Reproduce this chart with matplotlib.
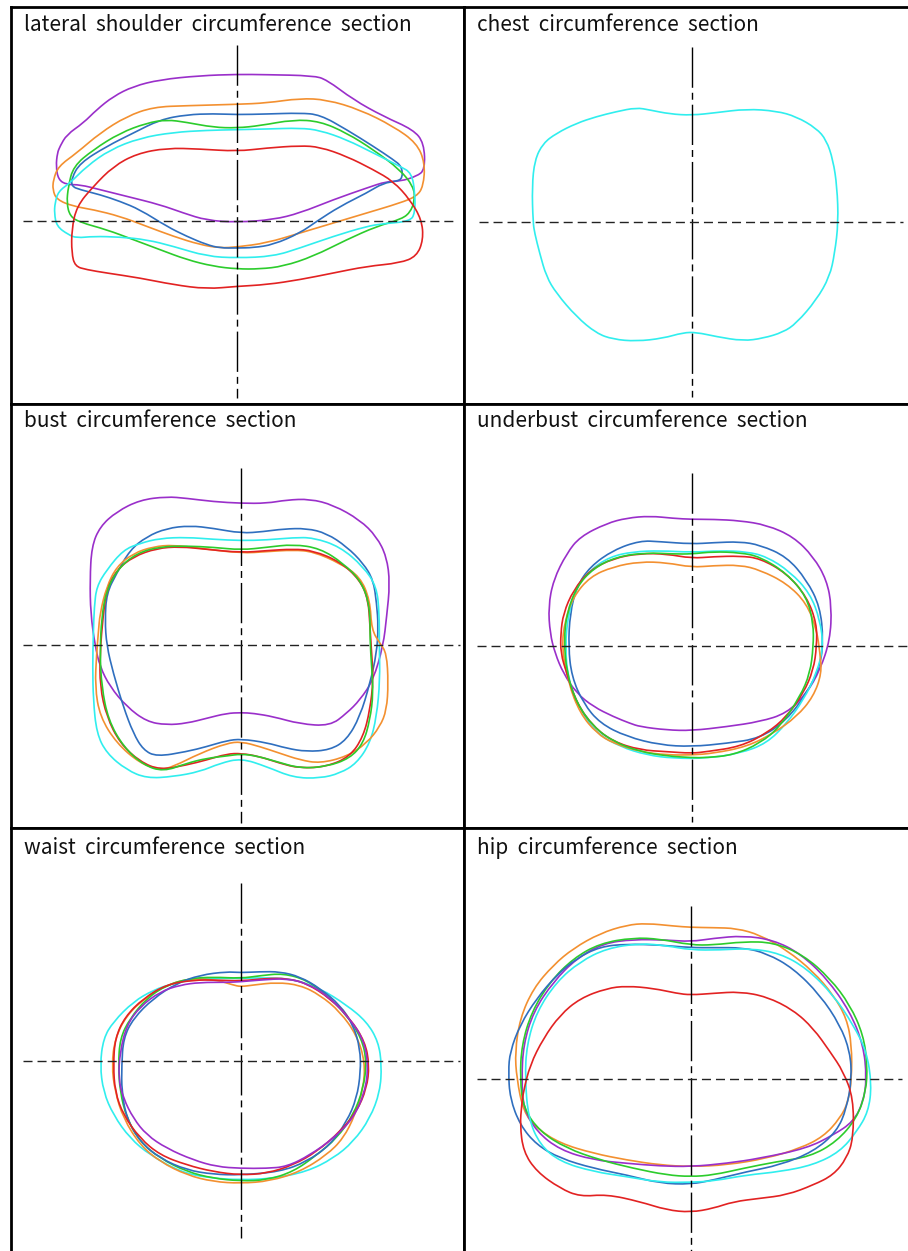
import numpy as np
import matplotlib
matplotlib.use("Agg")
import matplotlib.pyplot as plt
from matplotlib.path import Path
from matplotlib.patches import PathPatch

# contour points per section, relative to the cross centre (1 unit = 1/3 px of the original figure), y up
c_purple = "#9a2fca"
c_orange = "#f39030"
c_blue = "#2f6fbf"
c_green = "#2ccc2c"
c_cyan = "#30eeee"
c_red = "#e22222"

# lateral shoulder
sh_purple = [(-531,224),(-511,259),(-461,294),(-421,334),(-371,374),(-311,404),(-231,424),(-111,436),(0,440),(89,439),(229,436),(269,424),(349,364),(439,314),(529,274),(561,234),(564,154),(539,134),(489,119),(449,119),(389,99),(289,64),(189,24),(109,4),(0,-4),(-91,2),(-161,24),(-231,49),(-331,74),(-411,94),(-471,109),(-511,109),(-536,124),(-543,164),(-539,204)]
sh_orange = [(-551,124),(-536,164),(-481,204),(-411,264),(-331,314),(-251,342),(-151,346),(0,350),(89,354),(189,368),(269,364),(369,334),(469,284),(539,234),(564,174),(559,104),(539,74),(489,54),(389,24),(289,-6),(189,-36),(89,-66),(0,-78),(-51,-81),(-111,-71),(-191,-46),(-271,-16),(-351,14),(-431,34),(-491,44),(-541,64),(-553,94)]
sh_blue = [(-496,129),(-471,174),(-391,224),(-311,264),(-231,304),(-151,319),(-71,322),(0,319),(89,321),(189,324),(249,319),(329,274),(409,224),(469,184),(494,164),(497,129),(479,119),(439,114),(389,84),(309,44),(239,-1),(189,-36),(109,-71),(49,-80),(0,-81),(-51,-81),(-91,-71),(-151,-46),(-211,-16),(-291,34),(-351,59),(-411,79),(-471,94),(-496,104)]
sh_green = [(-506,104),(-491,164),(-431,214),(-351,264),(-271,294),(-211,304),(-151,296),(-71,281),(0,279),(69,286),(169,304),(249,299),(329,264),(409,214),(489,154),(529,104),(534,64),(519,24),(489,4),(419,-16),(329,-56),(229,-106),(139,-136),(69,-144),(0,-144),(-71,-136),(-151,-116),(-231,-86),(-311,-56),(-391,-26),(-471,-4),(-501,14),(-511,54)]
sh_cyan = [(-546,54),(-536,89),(-501,114),(-451,164),(-381,214),(-291,249),(-191,266),(-91,272),(0,274),(89,276),(189,279),(249,272),(329,244),(409,204),(489,164),(524,144),(534,84),(534,24),(519,-1),(439,-8),(389,-16),(289,-46),(189,-81),(109,-106),(0,-111),(-91,-106),(-191,-76),(-271,-56),(-351,-48),(-431,-46),(-481,-51),(-506,-41),(-541,-16),(-548,24)]
sh_red = [(-496,-26),(-481,44),(-431,104),(-371,164),(-301,202),(-211,219),(-111,216),(0,209),(89,219),(189,226),(249,222),(329,194),(409,154),(469,119),(519,64),(554,4),(559,-56),(539,-106),(489,-126),(389,-136),(289,-156),(189,-176),(89,-191),(0,-196),(-91,-204),(-191,-191),(-291,-171),(-391,-156),(-451,-146),(-486,-136),(-496,-96)]

# chest
ch_cyan = [(-476,0),(-479,107),(-471,187),(-446,237),(-406,267),(-346,297),(-286,317),(-226,332),(-166,344),(-126,337),(-66,325),(0,321),(74,329),(164,340),(254,334),(314,317),(374,282),(404,247),(424,187),(436,107),(440,0),(429,-93),(414,-163),(374,-233),(314,-303),(274,-330),(214,-348),(154,-356),(74,-343),(14,-330),(-26,-331),(-86,-348),(-166,-357),(-236,-351),(-286,-333),(-346,-283),(-406,-213),(-436,-163),(-456,-93),(-471,-33)]

# bust
bu_purple = [(-449,296),(-424,356),(-374,401),(-304,436),(-224,446),(-164,441),(-84,431),(0,426),(76,426),(136,436),(206,439),(276,421),(356,376),(406,326),(436,266),(446,186),(436,86),(426,0),(396,-104),(356,-164),(316,-204),(266,-242),(176,-236),(96,-214),(36,-204),(0,-202),(-44,-204),(-104,-219),(-164,-234),(-224,-239),(-284,-229),(-344,-184),(-394,-124),(-424,-64),(-439,0),(-452,96),(-454,196)]
bu_blue = [(-404,156),(-374,216),(-334,286),(-284,326),(-224,351),(-154,359),(-84,351),(0,336),(66,341),(126,349),(196,351),(256,336),(316,296),(366,246),(396,196),(406,126),(411,56),(406,-24),(386,-114),(356,-214),(316,-284),(266,-314),(196,-319),(136,-309),(76,-292),(0,-281),(-44,-286),(-104,-304),(-164,-319),(-254,-334),(-294,-314),(-324,-264),(-354,-184),(-384,-84),(-404,0),(-409,76)]
bu_cyan = [(-434,176),(-404,226),(-354,286),(-304,306),(-244,321),(-164,324),(-84,318),(0,314),(76,316),(156,323),(216,323),(296,296),(366,236),(406,176),(414,96),(414,0),(416,-104),(406,-214),(386,-294),(346,-354),(296,-384),(236,-399),(156,-397),(76,-364),(0,-339),(-64,-354),(-124,-379),(-204,-394),(-284,-399),(-344,-374),(-404,-324),(-434,-264),(-444,-164),(-446,-64),(-444,36),(-441,116)]
bu_orange = [(-424,96),(-404,176),(-374,236),(-324,276),(-264,296),(-204,301),(-124,291),(0,276),(76,281),(156,286),(216,281),(296,246),(356,206),(386,136),(391,46),(416,6),(436,-24),(441,-114),(436,-194),(416,-244),(376,-294),(316,-334),(236,-354),(176,-344),(116,-324),(56,-304),(0,-289),(-44,-294),(-124,-324),(-204,-364),(-244,-374),(-304,-354),(-374,-294),(-424,-214),(-439,-124),(-434,-24),(-429,36)]
bu_red = [(-414,96),(-404,166),(-374,226),(-324,266),(-254,291),(-184,296),(-104,288),(0,278),(76,284),(156,289),(216,284),(296,251),(356,196),(381,136),(386,56),(391,-24),(396,-104),(386,-194),(366,-274),(326,-334),(256,-364),(176,-369),(116,-354),(56,-334),(0,-324),(-44,-326),(-104,-344),(-164,-359),(-244,-374),(-304,-349),(-364,-294),(-404,-214),(-424,-124),(-424,-24)]
bu_green = [(-419,86),(-404,166),(-369,231),(-314,276),(-244,296),(-164,298),(-84,294),(0,286),(76,294),(156,303),(236,291),(306,246),(361,191),(386,116),(386,16),(391,-64),(396,-144),(386,-224),(366,-294),(326,-339),(256,-364),(176,-369),(106,-349),(46,-332),(0,-326),(-44,-332),(-104,-339),(-164,-354),(-234,-379),(-294,-359),(-354,-304),(-399,-224),(-419,-124),(-424,-24)]

# underbust
ub_purple = [(-425,38),(-430,118),(-415,198),(-375,278),(-335,328),(-255,368),(-195,384),(-125,390),(-55,383),(0,380),(65,380),(145,376),(225,363),(305,328),(365,268),(405,198),(420,118),(415,18),(385,-72),(345,-142),(285,-202),(205,-227),(105,-242),(0,-254),(-75,-252),(-155,-242),(-185,-232),(-235,-212),(-295,-182),(-345,-142),(-385,-82),(-410,-22)]
ub_blue = [(-370,-2),(-365,98),(-345,178),(-305,238),(-235,288),(-155,316),(-95,313),(0,306),(65,310),(145,313),(205,303),(285,268),(345,198),(385,118),(395,18),(385,-62),(345,-142),(285,-222),(205,-277),(105,-292),(0,-302),(-95,-297),(-195,-272),(-275,-232),(-325,-172),(-360,-92)]
ub_cyan = [(-380,-2),(-370,98),(-345,178),(-305,228),(-245,268),(-175,283),(-95,286),(0,281),(85,286),(165,283),(225,268),(295,223),(355,158),(385,78),(395,-2),(375,-82),(335,-162),(285,-232),(225,-292),(145,-322),(45,-337),(-55,-337),(-135,-327),(-215,-302),(-285,-262),(-335,-192),(-370,-102)]
ub_red = [(-393,38),(-385,98),(-355,168),(-305,228),(-235,263),(-155,278),(-75,276),(0,263),(65,268),(145,270),(205,263),(285,218),(345,148),(375,68),(375,-2),(365,-72),(335,-142),(285,-212),(225,-262),(145,-302),(45,-317),(0,-322),(-75,-317),(-155,-312),(-235,-287),(-295,-242),(-345,-172),(-375,-82),(-393,-22)]
ub_green = [(-383,18),(-375,98),(-345,178),(-295,233),(-225,268),(-135,280),(-55,276),(0,276),(65,283),(145,280),(205,268),(285,218),(345,148),(365,68),(365,-2),(355,-82),(325,-152),(265,-242),(205,-292),(125,-327),(45,-335),(0,-335),(-75,-330),(-155,-317),(-235,-287),(-295,-242),(-345,-172),(-375,-82)]
ub_orange = [(-390,-2),(-380,78),(-355,148),(-305,208),(-235,238),(-155,253),(-75,250),(0,236),(65,241),(145,243),(205,228),(285,188),(345,128),(375,48),(385,-22),(390,-82),(365,-152),(315,-212),(245,-262),(165,-302),(65,-322),(0,-327),(-75,-327),(-155,-317),(-235,-292),(-285,-262),(-335,-202),(-370,-112)]

# waist
wa_cyan = [(-422,-13),(-412,67),(-382,117),(-322,177),(-262,212),(-202,232),(-122,247),(-42,247),(0,247),(78,249),(158,245),(238,217),(318,167),(378,117),(413,57),(423,-13),(418,-93),(388,-173),(338,-243),(278,-293),(198,-333),(98,-353),(0,-358),(-102,-351),(-182,-333),(-272,-283),(-332,-233),(-382,-163),(-412,-93)]
wa_blue = [(-357,-13),(-352,67),(-322,127),(-262,187),(-192,232),(-122,257),(-42,267),(0,264),(58,267),(118,267),(178,252),(238,217),(298,167),(338,107),(358,37),(360,-33),(348,-113),(318,-183),(268,-253),(198,-303),(118,-333),(0,-343),(-82,-341),(-162,-328),(-242,-293),(-302,-243),(-342,-173),(-357,-93)]
wa_green = [(-367,-13),(-362,67),(-332,127),(-282,187),(-222,227),(-152,247),(-82,251),(0,247),(58,255),(128,262),(198,242),(258,197),(318,137),(363,67),(378,-3),(368,-83),(338,-163),(288,-233),(228,-283),(158,-333),(78,-358),(0,-361),(-82,-353),(-162,-333),(-242,-293),(-302,-243),(-342,-173),(-362,-93)]
wa_red = [(-382,-13),(-377,67),(-347,132),(-292,187),(-222,229),(-142,242),(-72,242),(0,239),(78,247),(138,247),(198,232),(268,187),(328,127),(373,57),(386,-13),(378,-83),(348,-153),(298,-213),(228,-273),(158,-313),(78,-338),(0,-343),(-82,-333),(-162,-313),(-242,-283),(-302,-233),(-352,-163),(-377,-93)]
wa_orange = [(-387,-13),(-377,67),(-342,137),(-282,192),(-212,232),(-142,247),(-72,242),(-22,227),(0,222),(38,227),(108,235),(178,227),(238,197),(298,147),(348,77),(373,-3),(368,-83),(343,-163),(308,-233),(258,-283),(178,-333),(88,-361),(0,-368),(-82,-363),(-162,-343),(-242,-303),(-302,-253),(-352,-173),(-377,-93)]
wa_purple = [(-367,-53),(-362,27),(-342,107),(-302,162),(-242,207),(-182,227),(-122,235),(-42,235),(0,237),(58,242),(138,247),(198,232),(258,197),(318,137),(368,67),(383,-13),(373,-93),(338,-173),(278,-233),(208,-283),(138,-318),(78,-323),(0,-323),(-72,-318),(-142,-298),(-222,-263),(-282,-223),(-322,-173),(-352,-113)]

# hip
hi_orange = [(-522,2),(-527,82),(-512,182),(-472,272),(-412,342),(-352,392),(-272,437),(-192,462),(-132,467),(-52,459),(0,455),(68,454),(138,452),(208,432),(288,387),(368,322),(428,252),(468,182),(483,102),(483,2),(473,-68),(448,-118),(398,-173),(328,-208),(228,-238),(108,-258),(0,-263),(-92,-258),(-192,-243),(-292,-223),(-392,-193),(-462,-148),(-502,-98)]
hi_purple = [(-507,2),(-502,102),(-472,202),(-412,292),(-342,362),(-262,407),(-172,419),(-72,417),(0,412),(68,422),(158,430),(248,417),(328,377),(408,302),(478,202),(518,102),(528,2),(518,-68),(488,-128),(428,-168),(348,-208),(208,-238),(108,-253),(0,-263),(-92,-261),(-192,-253),(-292,-243),(-392,-213),(-462,-158),(-502,-88)]
hi_green = [(-512,2),(-507,102),(-477,202),(-422,292),(-352,362),(-272,407),(-172,424),(-92,420),(0,402),(68,402),(158,412),(248,410),(338,372),(418,302),(478,222),(518,132),(530,42),(526,-38),(498,-118),(438,-188),(358,-233),(258,-248),(158,-268),(68,-288),(0,-293),(-72,-288),(-172,-268),(-272,-243),(-372,-208),(-452,-158),(-502,-88)]
hi_blue = [(-547,22),(-542,82),(-512,162),(-462,242),(-402,312),(-342,362),(-272,397),(-192,405),(-92,402),(0,394),(68,394),(158,394),(228,377),(308,332),(388,252),(448,162),(478,82),(483,2),(468,-88),(438,-158),(368,-218),(268,-258),(168,-278),(68,-303),(0,-316),(-92,-313),(-192,-288),(-292,-268),(-392,-238),(-462,-198),(-512,-138),(-542,-58)]
hi_cyan = [(-497,2),(-492,102),(-462,202),(-402,292),(-332,352),(-252,392),(-152,407),(-72,400),(0,387),(88,387),(178,392),(268,377),(348,332),(428,252),(488,162),(528,82),(543,-18),(533,-98),(498,-158),(448,-218),(368,-258),(268,-278),(168,-288),(68,-306),(0,-310),(-92,-310),(-192,-293),(-292,-278),(-392,-248),(-452,-198),(-487,-118)]
hi_red = [(-502,-38),(-482,42),(-442,122),(-392,192),(-332,242),(-252,272),(-192,279),(-112,272),(-42,257),(0,252),(68,257),(148,262),(228,247),(308,207),(368,152),(418,82),(458,22),(488,-58),(488,-178),(468,-238),(428,-288),(368,-318),(288,-348),(208,-358),(128,-368),(68,-388),(0,-400),(-72,-393),(-152,-368),(-252,-346),(-332,-353),(-392,-328),(-462,-278),(-502,-218),(-512,-138),(-507,-78)]

titles = ["lateral  shoulder  circumference  section", "chest  circumference  section",
          "bust  circumference  section", "underbust  circumference  section",
          "waist  circumference  section", "hip  circumference  section"]

curves = [
    [(sh_purple, c_purple), (sh_orange, c_orange), (sh_blue, c_blue), (sh_green, c_green), (sh_cyan, c_cyan), (sh_red, c_red)],
    [(ch_cyan, c_cyan)],
    [(bu_purple, c_purple), (bu_blue, c_blue), (bu_cyan, c_cyan), (bu_orange, c_orange), (bu_red, c_red), (bu_green, c_green)],
    [(ub_purple, c_purple), (ub_blue, c_blue), (ub_cyan, c_cyan), (ub_orange, c_orange), (ub_red, c_red), (ub_green, c_green)],
    [(wa_cyan, c_cyan), (wa_orange, c_orange), (wa_green, c_green), (wa_blue, c_blue), (wa_red, c_red), (wa_purple, c_purple)],
    [(hi_orange, c_orange), (hi_purple, c_purple), (hi_green, c_green), (hi_blue, c_blue), (hi_cyan, c_cyan), (hi_red, c_red)],
]

# layout in pixels of the 908x1251 image
W, H = 908, 1251
S = 3.0  # data units per pixel
cols = [(11, 463.5), (463.5, 908)]
rows = [(7, 404), (404, 827.5), (827.5, 1251)]
centers = [(237, 221), (691.7, 222.3), (241.3, 645.3), (691.7, 646), (240.7, 1060.7), (690.7, 1079)]
vlines = [(45, 398), (47, 397), (468, 823), (473, 822), (883, 1238), (906, 1251)]
hlines = [(23, 455), (479, 903), (23, 460), (477, 908), (23, 460), (477, 902)]
baselines = [31, 31, 427, 427, 854, 854]


def closed_curve(pts):
    # quadratic bezier path using the read points as control points
    p = np.array(pts, dtype=float)
    mids = (p + np.roll(p, -1, axis=0)) / 2
    verts = [mids[-1]]
    codes = [Path.MOVETO]
    for k in range(len(p)):
        verts += [p[k], mids[k]]
        codes += [Path.CURVE3, Path.CURVE3]
    return Path(verts, codes)


plt.rcParams['font.family'] = ['Noto Sans CJK KR', 'DejaVu Sans']
fig = plt.figure(figsize=(W / 100, H / 100), dpi=100)

for i in range(6):
    x0, x1 = cols[i % 2]
    y0, y1 = rows[i // 2]
    cx, cy = centers[i]
    ax = fig.add_axes([x0 / W, 1 - y1 / H, (x1 - x0) / W, (y1 - y0) / H])
    ax.set_xlim((x0 - cx) * S, (x1 - cx) * S)
    ax.set_ylim((cy - y1) * S, (cy - y0) * S)
    ax.set_xticks([])
    ax.set_yticks([])
    for sp in ax.spines.values():
        sp.set_linewidth(2.0)
        sp.set_color("black")
    if i % 2 == 1:
        ax.spines['right'].set_visible(False)
    if i // 2 == 2:
        ax.spines['bottom'].set_visible(False)

    # cross lines
    vt, vb = vlines[i]
    ax.plot([0, 0], [(cy - vt) * S, (cy - vb) * S], color="black", lw=1.0,
            linestyle=(0, (29, 3.6, 5, 3.6)), zorder=3)
    hl, hr = hlines[i]
    ax.plot([(hl - cx) * S, (hr - cx) * S], [0, 0], color="#222222", lw=1.0,
            linestyle=(0, (6.5, 3.6)), zorder=3)

    for pts, col in curves[i]:
        ax.add_patch(PathPatch(closed_curve(pts), fill=False, edgecolor=col, lw=1.2, zorder=2))

    fig.text((x0 + 13) / W, 1 - baselines[i] / H, titles[i], fontsize=15,
             va="baseline", ha="left", color="#111111")

fig.savefig("out.png", dpi=100)
